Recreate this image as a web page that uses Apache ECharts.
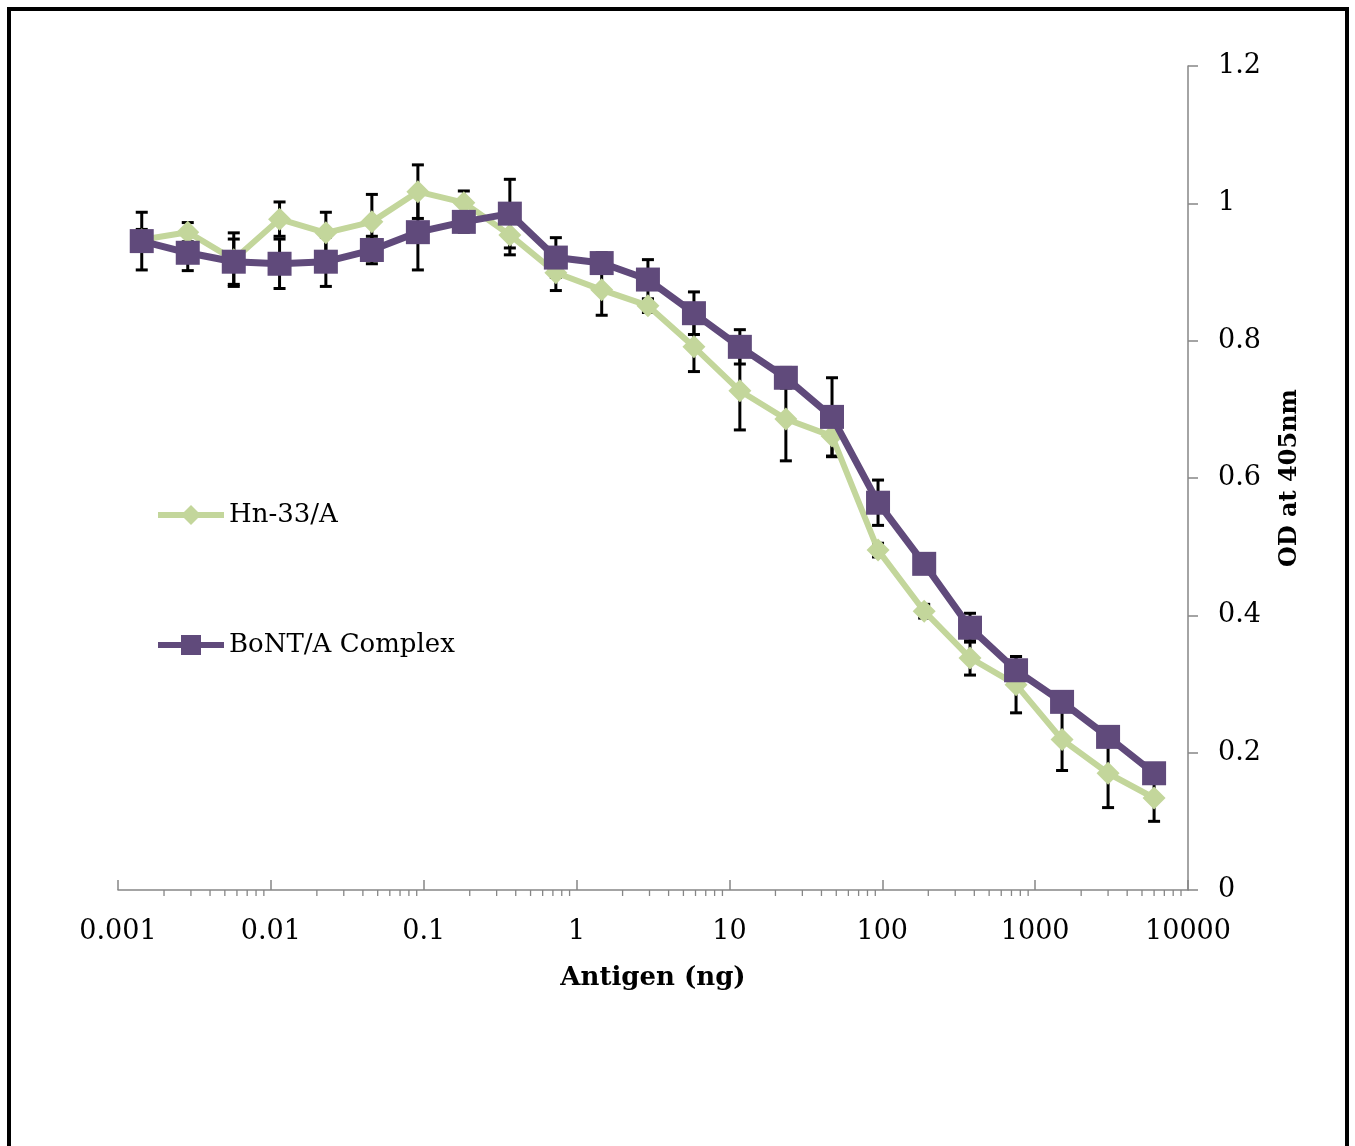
<!DOCTYPE html>
<html>
<head>
<meta charset="utf-8">
<script src="https://cdn.jsdelivr.net/npm/echarts@6/dist/echarts.min.js"></script>
<style>
  html, body { margin: 0; padding: 0; background: #fff; }
  #frame { position: absolute; left: 7px; top: 7px; width: 1334px; height: 1160px; border: 4px solid #000; }
  #chart { position: absolute; left: 0; top: 0; width: 1355px; height: 1146px; }
</style>
</head>
<body>
<div id="frame"></div>
<div id="chart"></div>
<script>
// antigen amounts (ng), two-fold dilutions
var antigen = [0.00143, 0.00286, 0.00572, 0.0114, 0.0229, 0.0458, 0.0916, 0.183, 0.366, 0.732,
  1.46, 2.93, 5.86, 11.7, 23.4, 46.9, 93.8, 188, 375, 750, 1500, 3000, 6000];

var hn33 = [0.947, 0.958, 0.918, 0.977, 0.957, 0.973, 1.017, 1.001, 0.954, 0.899,
  0.874, 0.851, 0.791, 0.727, 0.686, 0.661, 0.495, 0.406, 0.338, 0.299, 0.219, 0.170, 0.134];
var hn33Err = [0.015, 0.014, 0.039, 0.025, 0.030, 0.040, 0.039, 0.017, 0.029, 0.026,
  0.037, 0.010, 0.036, 0.057, 0.061, 0.030, 0.010, 0.010, 0.025, 0.041, 0.045, 0.050, 0.034];

var bont = [0.945, 0.928, 0.915, 0.912, 0.915, 0.932, 0.958, 0.973, 0.985, 0.921,
  0.913, 0.889, 0.840, 0.791, 0.746, 0.689, 0.564, 0.475, 0.382, 0.320, 0.274, 0.223, 0.170];
var bontErr = [0.042, 0.026, 0.033, 0.036, 0.036, 0.020, 0.055, 0.015, 0.050, 0.029,
  0.015, 0.029, 0.031, 0.025, 0.015, 0.057, 0.033, 0.010, 0.021, 0.020, 0.010, 0.010, 0.010];

var xTicks = [0.001, 0.01, 0.1, 1, 10, 100, 1000, 10000];
var xTickLabels = ['0.001', '0.01', '0.1', '1', '10', '100', '1000', '10000'];

var FONT = 'DejaVu Serif';
var GREEN = '#c3d69b';
var PURPLE = '#604a7b';
var AXIS = '#868686';

// minor tick positions 2..9 in each decade
var minorTicks = [];
for (var d = 0; d < xTicks.length - 1; d++) {
  for (var m = 2; m <= 9; m++) minorTicks.push([xTicks[d] * m, 0]);
}

function pairs(ys, errs) {
  return antigen.map(function (x, i) { return errs ? [x, ys[i], errs[i]] : [x, ys[i]]; });
}

function renderErr(params, api) {
  var x = api.value(0), y = api.value(1), e = api.value(2);
  var top = api.coord([x, y + e]);
  var bot = api.coord([x, y - e]);
  var cap = 6;
  var st = { stroke: '#000', lineWidth: 3 };
  return {
    type: 'group',
    children: [
      { type: 'line', shape: { x1: top[0], y1: top[1], x2: bot[0], y2: bot[1] }, style: st },
      { type: 'line', shape: { x1: top[0] - cap, y1: top[1], x2: top[0] + cap, y2: top[1] }, style: st },
      { type: 'line', shape: { x1: bot[0] - cap, y1: bot[1], x2: bot[0] + cap, y2: bot[1] }, style: st }
    ]
  };
}

function renderMinor(params, api) {
  var p = api.coord([api.value(0), 0]);
  return {
    type: 'line',
    shape: { x1: p[0], y1: p[1], x2: p[0], y2: p[1] + 6 },
    style: { stroke: AXIS, lineWidth: 1.3 }
  };
}

var chart = echarts.init(document.getElementById('chart'));
chart.setOption({
  animation: false,
  backgroundColor: 'transparent',
  grid: { left: 118, right: 167, top: 66, bottom: 256 },
  legend: {
    data: ['Hn-33/A', 'BoNT/A Complex'],
    orient: 'vertical',
    left: 150,
    top: 497,
    itemGap: 104,
    itemWidth: 66,
    itemHeight: 25,
    lineStyle: { width: 6 },
    textStyle: { fontFamily: FONT, fontSize: 26, color: '#000' }
  },
  xAxis: {
    type: 'log',
    logBase: 10,
    min: 0.001,
    max: 10000,
    name: 'Antigen (ng)',
    nameLocation: 'middle',
    nameGap: 75,
    nameTextStyle: { fontFamily: FONT, fontSize: 26, fontWeight: 'bold', color: '#000' },
    axisLine: { lineStyle: { color: AXIS, width: 1.5 } },
    axisTick: { inside: true, length: 10, lineStyle: { color: AXIS, width: 1.5 } },
    splitLine: { show: false },
    axisLabel: {
      margin: 28,
      fontFamily: FONT,
      fontSize: 27,
      color: '#000',
      formatter: function (v) {
        var i = xTicks.findIndex(function (t) { return Math.abs(Math.log10(t) - Math.log10(v)) < 1e-6; });
        return i >= 0 ? xTickLabels[i] : '';
      }
    }
  },
  yAxis: {
    type: 'value',
    position: 'right',
    min: 0,
    max: 1.2,
    interval: 0.2,
    name: 'OD at 405nm',
    nameLocation: 'middle',
    nameRotate: 90,
    nameGap: 90,
    nameTextStyle: { fontFamily: FONT, fontSize: 24, fontWeight: 'bold', color: '#000' },
    axisLine: { show: true, lineStyle: { color: AXIS, width: 1.5 } },
    axisTick: { show: true, length: 10, lineStyle: { color: AXIS, width: 1.5 } },
    splitLine: { show: false },
    axisLabel: { margin: 30, fontFamily: FONT, fontSize: 27, color: '#000' }
  },
  series: [
    {
      name: 'minor', type: 'custom', silent: true, z: 1,
      renderItem: renderMinor, data: minorTicks, clip: false
    },
    {
      name: 'errHn', type: 'custom', silent: true, z: 1,
      renderItem: renderErr, data: pairs(hn33, hn33Err), encode: { x: 0, y: 1 }
    },
    {
      name: 'errBont', type: 'custom', silent: true, z: 1,
      renderItem: renderErr, data: pairs(bont, bontErr), encode: { x: 0, y: 1 }
    },
    {
      name: 'Hn-33/A', type: 'line', z: 3,
      data: pairs(hn33),
      symbol: 'diamond', symbolSize: 23,
      lineStyle: { color: GREEN, width: 6 },
      itemStyle: { color: GREEN }
    },
    {
      name: 'BoNT/A Complex', type: 'line', z: 4,
      data: pairs(bont),
      symbol: 'rect', symbolSize: 24,
      lineStyle: { color: PURPLE, width: 7 },
      itemStyle: { color: PURPLE }
    }
  ]
});
</script>
</body>
</html>
